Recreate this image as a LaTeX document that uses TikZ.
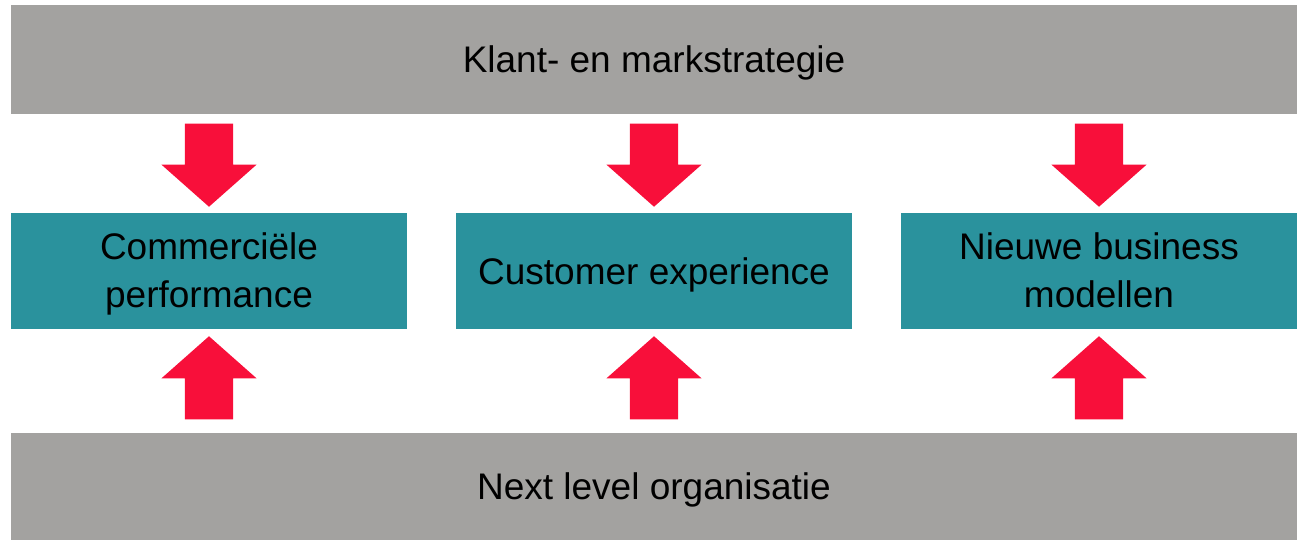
\documentclass[tikz,border=0pt]{standalone}
\usepackage{fontspec}
\setmainfont{Liberation Sans}
\usetikzlibrary{shapes.arrows}

\definecolor{bargray}{RGB}{163,162,160}
\definecolor{teal}{RGB}{42,146,157}
\definecolor{arrowred}{RGB}{248,15,58}

\begin{document}
\begin{tikzpicture}[x=1pt,y=1pt,
    bar/.style={shape=rectangle,fill=bargray,minimum width=1286pt,inner sep=0pt,
        text height=35pt,text depth=8pt,font=\fontsize{37}{44}\selectfont},
    pillar/.style={shape=rectangle,fill=teal,minimum width=396pt,minimum height=116pt,
        inner sep=0pt,align=center,text height=35pt,text depth=8pt,
        font=\fontsize{37}{48}\selectfont},
    twolines/.style={text height=82pt},
    blockarrow/.style={shape=single arrow,fill=arrowred,inner sep=24pt,
        minimum height=83pt,single arrow head extend=23.5pt,
        single arrow tip angle=97,shape border rotate=#1,anchor=tip}]
        \useasboundingbox (0,0) rectangle (1298,540);
        \node[bar,minimum height=109pt](top) at (654,480.5) {Klant- en markstrategie};
        \node[bar,minimum height=107pt](bottom) at (654,53.5) {Next level organisatie};
        \node[pillar,twolines](p1) at (209,269) {Commerciële\\performance};
        \node[pillar](p2) at (654,269) {Customer experience};
        \node[pillar,twolines](p3) at (1099,269) {Nieuwe business\\modellen};
        % arrows from the bars into the pillars
        \node[blockarrow=270](d1) at (209,333) {};
        \node[blockarrow=270](d2) at (654,333) {};
        \node[blockarrow=270](d3) at (1099,333) {};
        \node[blockarrow=90](u1) at (209,204) {};
        \node[blockarrow=90](u2) at (654,204) {};
        \node[blockarrow=90](u3) at (1099,204) {};
    \end{tikzpicture}
\end{document}
